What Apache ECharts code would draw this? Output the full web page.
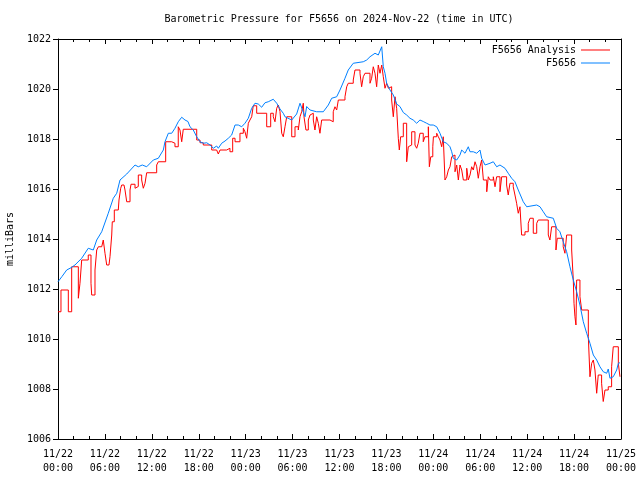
<!DOCTYPE html>
<html>
<head>
<meta charset="utf-8">
<script src="https://cdn.jsdelivr.net/npm/echarts@6/dist/echarts.min.js"></script>
<style>html,body{margin:0;padding:0;background:#fff;}#c{width:640px;height:480px;}</style>
</head>
<body>
<div id="c"></div>
<script>
// Hours since 2024-11-22 00:00 UTC
const tickDates = ['11/22','11/22','11/22','11/22','11/23','11/23','11/23','11/23','11/24','11/24','11/24','11/24','11/25'];
const tickTimes = ['00:00','06:00','12:00','18:00','00:00','06:00','12:00','18:00','00:00','06:00','12:00','18:00','00:00'];

const analysisHours = [0.00,0.38,1.32,1.75,2.60,2.81,3.03,3.87,4.22,4.31,4.73,4.95,5.16,5.59,5.79,6.01,6.23,6.52,6.65,6.87,6.94,7.20,7.71,7.80,8.02,8.15,8.44,8.57,8.79,9.21,9.34,9.85,10.06,10.27,10.70,10.91,11.13,11.34,12.62,12.83,13.77,14.54,14.96,15.38,15.60,15.82,16.02,17.74,18.16,18.58,19.66,20.29,20.50,20.72,21.57,21.99,22.34,22.64,23.27,23.70,23.91,24.13,24.34,24.55,24.77,24.97,25.41,26.69,27.20,27.53,27.75,27.97,28.17,28.39,28.61,28.81,29.03,29.25,29.89,30.31,30.73,30.95,31.16,31.37,31.46,31.71,32.01,32.23,32.44,32.65,32.86,33.08,33.29,33.50,33.72,34.78,35.20,35.42,35.64,35.85,36.70,36.92,37.12,37.76,37.98,38.62,38.83,39.04,39.26,39.90,40.11,40.32,40.54,40.75,40.96,41.18,41.40,41.60,41.82,42.03,42.25,42.46,42.67,42.88,43.10,43.31,43.52,43.65,43.82,44.16,44.59,44.80,45.01,45.23,45.65,45.87,46.07,46.29,46.71,46.93,47.36,47.49,47.67,47.93,48.01,48.43,48.64,48.85,49.07,49.27,49.49,49.71,49.92,50.13,50.35,50.55,50.77,50.99,51.20,51.41,51.63,51.84,52.27,52.47,52.69,52.90,53.11,53.33,53.55,53.75,53.97,54.18,54.40,54.83,55.03,55.25,55.67,55.89,56.10,56.52,56.74,57.37,57.58,57.80,58.22,58.44,58.65,58.86,59.08,59.29,59.72,60.14,60.36,60.78,61.22,61.42,62.70,62.91,63.13,63.68,63.85,64.61,64.83,65.05,65.69,65.90,65.99,66.11,66.24,66.33,66.75,66.97,67.82,68.03,68.25,68.46,68.67,68.89,69.09,69.52,69.73,69.95,70.37,70.80,71.01,71.66,71.87];
const analysisValues = [1011.09,1011.96,1011.09,1012.89,1011.63,1012.23,1013.16,1013.36,1012.23,1011.76,1012.76,1013.56,1013.69,1013.76,1013.96,1013.43,1012.96,1012.89,1013.29,1014.16,1014.69,1015.16,1015.23,1015.56,1016.03,1016.16,1016.23,1015.96,1015.49,1015.96,1016.19,1016.03,1016.10,1016.56,1016.36,1016.03,1016.23,1016.65,1016.96,1017.09,1017.89,1017.83,1017.69,1018.49,1018.36,1017.89,1018.39,1017.96,1017.85,1017.76,1017.56,1017.49,1017.40,1017.56,1017.63,1017.49,1018.03,1017.89,1018.23,1018.43,1018.29,1018.03,1018.63,1018.76,1018.89,1019.33,1019.03,1018.49,1019.03,1018.89,1018.69,1019.23,1019.36,1019.10,1018.23,1018.09,1018.49,1018.89,1018.09,1018.49,1018.36,1018.89,1019.09,1019.43,1018.89,1018.36,1018.76,1018.96,1019.03,1018.76,1018.36,1018.89,1018.63,1018.23,1018.76,1018.69,1019.09,1019.29,1019.16,1019.56,1019.69,1020.09,1020.23,1020.36,1020.76,1020.63,1020.09,1020.49,1020.63,1020.23,1020.43,1020.89,1020.63,1020.09,1020.96,1020.63,1020.96,1020.49,1020.03,1020.23,1020.03,1020.09,1019.56,1018.89,1019.69,1019.23,1018.03,1017.56,1018.09,1018.63,1017.09,1017.69,1017.76,1018.29,1017.76,1017.63,1017.83,1018.23,1017.89,1018.09,1018.49,1016.89,1017.29,1017.69,1018.09,1018.23,1018.09,1017.96,1017.69,1018.09,1016.36,1016.49,1016.76,1016.89,1017.29,1017.36,1016.69,1016.96,1016.36,1016.96,1016.76,1016.36,1016.83,1016.36,1016.56,1016.89,1016.76,1017.09,1016.89,1016.43,1016.89,1017.16,1016.36,1015.89,1016.49,1016.36,1016.49,1016.09,1016.49,1015.89,1016.49,1016.16,1015.76,1016.23,1016.09,1015.76,1015.43,1015.03,1015.29,1014.16,1014.29,1014.63,1014.83,1014.23,1014.63,1014.76,1014.16,1013.96,1014.49,1013.56,1014.03,1013.69,1013.43,1014.16,1013.56,1012.36,1011.43,1010.89,1010.56,1012.36,1011.69,1011.16,1010.09,1008.49,1009.03,1009.16,1008.76,1007.83,1008.56,1008.23,1007.50,1007.96,1008.09,1008.89,1009.69,1009.03,1008.49];

const stationHours = [0.00,0.51,1.11,1.66,2.17,3.03,3.87,4.51,4.95,5.59,6.43,7.07,7.51,7.93,8.79,9.85,10.27,10.78,11.34,12.19,12.83,13.47,13.68,14.11,14.54,14.96,15.38,15.82,16.24,16.62,16.88,17.30,17.74,18.16,18.58,19.02,19.44,19.86,20.29,20.50,20.93,21.36,21.78,22.21,22.64,23.06,23.49,23.91,24.34,24.77,25.19,25.61,26.05,26.47,26.89,27.53,27.97,28.39,28.81,29.03,29.89,30.52,30.95,31.59,31.80,32.23,33.08,33.93,34.57,35.00,35.64,36.06,36.70,37.12,37.76,39.04,39.48,39.90,40.54,40.96,41.40,41.60,41.82,42.03,42.46,42.88,43.31,43.73,44.16,44.59,45.01,45.43,45.87,46.29,46.71,47.15,47.57,47.99,48.43,48.85,49.27,49.71,50.13,50.35,50.55,50.99,51.41,51.63,52.05,52.47,52.69,53.11,53.55,53.97,54.18,54.61,55.25,55.67,56.10,56.52,57.16,57.58,58.02,58.44,58.86,59.08,59.50,59.94,61.22,61.64,62.06,62.49,63.34,63.77,64.19,64.61,65.05,65.47,65.90,66.33,66.75,67.18,67.61,68.03,68.46,68.89,69.09,69.31,69.73,70.17,70.37,70.59,71.01,71.45,71.66,71.87];
const stationValues = [1012.29,1012.50,1012.76,1012.85,1012.96,1013.23,1013.63,1013.56,1013.96,1014.29,1015.03,1015.63,1015.83,1016.36,1016.60,1016.96,1016.89,1016.96,1016.89,1017.16,1017.23,1017.56,1017.89,1018.23,1018.23,1018.43,1018.69,1018.87,1018.76,1018.70,1018.49,1018.36,1018.09,1017.89,1017.83,1017.85,1017.76,1017.63,1017.72,1017.63,1017.83,1017.92,1018.03,1018.16,1018.56,1018.56,1018.49,1018.63,1018.83,1019.23,1019.43,1019.40,1019.27,1019.45,1019.49,1019.59,1019.43,1019.20,1019.03,1018.89,1018.76,1019.00,1019.43,1018.89,1019.30,1019.16,1019.09,1019.09,1019.36,1019.63,1019.69,1019.96,1020.43,1020.76,1021.03,1021.09,1021.16,1021.29,1021.43,1021.36,1021.69,1020.89,1020.63,1020.23,1019.96,1019.76,1019.40,1019.30,1019.06,1018.96,1018.83,1018.76,1018.63,1018.76,1018.70,1018.63,1018.56,1018.56,1018.49,1018.23,1017.89,1017.83,1017.69,1017.49,1017.23,1017.16,1017.36,1017.56,1017.43,1017.69,1017.49,1017.49,1017.43,1017.56,1017.23,1016.96,1017.03,1017.09,1016.89,1016.96,1016.83,1016.63,1016.43,1016.29,1015.96,1015.89,1015.49,1015.29,1015.36,1015.29,1015.09,1014.89,1014.83,1014.43,1014.29,1013.89,1013.49,1012.89,1012.36,1011.89,1011.36,1010.69,1010.23,1009.83,1009.36,1009.16,1009.23,1008.89,1008.69,1008.63,1008.80,1008.43,1008.49,1008.76,1009.03,1009.05];

const FONT = 'DejaVu Sans Mono';
const analysisData = analysisHours.map((h, i) => [h, analysisValues[i]]);
const stationData = stationHours.map((h, i) => [h, stationValues[i]]);

const chart = echarts.init(document.getElementById('c'), null, {renderer: 'canvas'});
const axisCommonX = {
  type: 'value', min: 0, max: 72, interval: 6,
  axisLine: {show: true, onZero: false, lineStyle: {color: '#000', width: 1}},
  axisTick: {show: true, inside: true, length: 5, lineStyle: {color: '#000'}},
  minorTick: {show: true, splitNumber: 3, length: 3, lineStyle: {color: '#000'}},
  splitLine: {show: false}
};
chart.setOption({
  animation: false,
  backgroundColor: '#fff',
  title: {
    text: 'Barometric Pressure for F5656 on 2024-Nov-22 (time in UTC)',
    left: 339, top: 14, padding: 0, textAlign: 'center',
    textStyle: {fontFamily: FONT, fontSize: 10, fontWeight: 'normal', color: '#000'}
  },
  legend: {
    right: 30, top: 44, padding: 0, orient: 'vertical', align: 'right',
    icon: 'rect', itemWidth: 29, itemHeight: 1, itemGap: 1,
    textStyle: {fontFamily: FONT, fontSize: 10, color: '#000', lineHeight: 12},
    data: ['F5656 Analysis', 'F5656']
  },
  grid: {left: 58, right: 19, top: 39, bottom: 41, show: false, containLabel: false, outerBoundsMode: 'none'},
  xAxis: [
    Object.assign({}, axisCommonX, {
      position: 'bottom',
      axisLabel: {
        margin: 8, fontFamily: FONT, fontSize: 10, color: '#000', lineHeight: 14,
        formatter: v => { const i = Math.round(v / 6); return tickDates[i] + '\n' + tickTimes[i]; }
      }
    }),
    Object.assign({}, axisCommonX, {position: 'top', axisLabel: {show: false}})
  ],
  yAxis: [
    {
      type: 'value', min: 1006, max: 1022, interval: 2, position: 'left',
      name: 'milliBars', nameLocation: 'middle', nameGap: 43, nameRotate: 90,
      nameTextStyle: {fontFamily: FONT, fontSize: 10, color: '#000'},
      axisLine: {show: true, onZero: false, lineStyle: {color: '#000', width: 1}},
      axisTick: {show: true, inside: false, length: 5, lineStyle: {color: '#000'}},
      axisLabel: {margin: 7, fontFamily: FONT, fontSize: 10, color: '#000', formatter: v => String(v)},
      splitLine: {show: false}
    },
    {
      type: 'value', min: 1006, max: 1022, interval: 2, position: 'right',
      axisLine: {show: true, onZero: false, lineStyle: {color: '#000', width: 1}},
      axisTick: {show: true, inside: true, length: 5, lineStyle: {color: '#000'}},
      axisLabel: {show: false},
      splitLine: {show: false}
    }
  ],
  series: [
    {
      name: 'F5656 Analysis', type: 'line', step: 'end', data: analysisData,
      showSymbol: false, symbol: 'none', color: '#ff0000',
      lineStyle: {color: '#ff0000', width: 1}
    },
    {
      name: 'F5656', type: 'line', data: stationData,
      showSymbol: false, symbol: 'none', color: '#0080ff',
      lineStyle: {color: '#0080ff', width: 1}
    }
  ]
});
</script>
</body>
</html>
